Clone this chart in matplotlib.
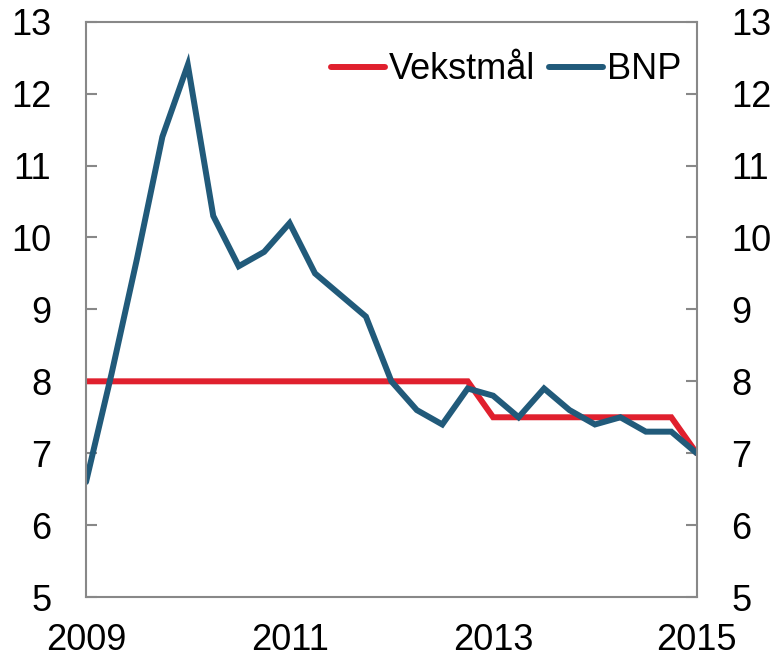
import numpy as np
import matplotlib.pyplot as plt

plt.rcParams['font.family'] = ['Liberation Sans', 'DejaVu Sans']

# Kvartalsdata 2009-2015
years = np.arange(2009, 2015.01, 0.25)
bnp = [6.6, 8.1, 9.7, 11.4, 12.4, 10.3, 9.6, 9.8, 10.2, 9.5, 9.2, 8.9, 8.0,
       7.6, 7.4, 7.9, 7.8, 7.5, 7.9, 7.6, 7.4, 7.5, 7.3, 7.3, 7.0]
vekstmaal = [8.0] * 16 + [7.5] * 8 + [7.0]
yticks = [5, 6, 7, 8, 9, 10, 11, 12, 13]
xticks = [2009, 2011, 2013, 2015]

fig = plt.figure(figsize=(7.75, 6.59), dpi=100)
ax = fig.add_axes([0.111, 0.094, 0.788, 0.873])

ax.plot(years, vekstmaal, color='#e0202e', lw=4.3, solid_capstyle='round',
        solid_joinstyle='miter', label='Vekstmål')
ax.plot(years, bnp, color='#215a7a', lw=4.3, solid_capstyle='round',
        solid_joinstyle='miter', label='BNP')

ax.set_xlim(2009, 2015)
ax.set_ylim(5, 13)
ax.set_xticks(xticks)
ax.set_yticks(yticks)

for s in ax.spines.values():
    s.set_color('#888888')
    s.set_linewidth(1.5)

ax.tick_params(axis='y', direction='in', length=8, width=1.5, color='#888888',
               left=True, right=True, labelleft=True, labelright=True,
               labelsize=26, pad=25)
ax.tick_params(axis='x', length=0, labelsize=26, pad=19)

ax.legend(loc='upper right', ncol=2, frameon=False, fontsize=26,
          handlelength=1.5, handletextpad=0.1, columnspacing=0.4,
          borderaxespad=0.45, bbox_to_anchor=(1.025, 1.0))

plt.savefig('out.png', dpi=100)
